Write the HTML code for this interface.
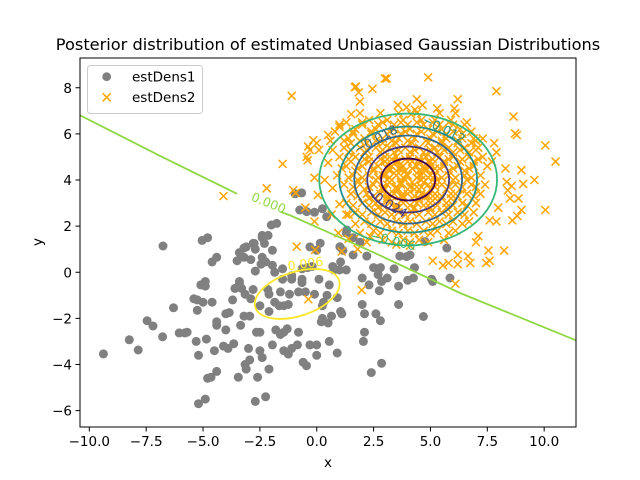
<!DOCTYPE html>
<html><head><meta charset="utf-8"><style>
html,body{margin:0;padding:0;background:#fff}
svg{display:block;font-family:"DejaVu Sans","Liberation Sans",sans-serif}
</style></head><body>
<svg id="chart" width="640" height="480" viewBox="0 0 640 480">
<rect width="640" height="480" fill="#fff"/>
<text x="328" y="50" font-size="16.2" text-anchor="middle" fill="#000">Posterior distribution of estimated Unbiased Gaussian Distributions</text>
<g id="plot"></g>
<rect x="80" y="58" width="496" height="369" fill="none" stroke="#000" stroke-width="1"/>
<g id="xticks"></g>
<g id="yticks"></g>
<text x="328" y="467" font-size="13.5" text-anchor="middle">x</text>
<text x="42" y="242" font-size="13.5" text-anchor="middle" transform="rotate(-90 42 242)">y</text>
<g>
<rect x="87.5" y="65.5" width="115" height="48" rx="3" fill="#fff" fill-opacity="0.8" stroke="#ccc"/>
<circle cx="106.7" cy="76.7" r="4.4" fill="#808080"/>
<text x="132" y="81.5" font-size="13.5">estDens1</text>
<path d="M102.7,93.3L110.7,101.3M102.7,101.3L110.7,93.3" stroke="#ffa500" stroke-width="1.5"/>
<text x="132" y="102" font-size="13.5">estDens2</text>
</g>
</svg>
<script>
const xTicks=[-10,-7.5,-5,-2.5,0,2.5,5,7.5,10];
const xTickLabels=["−10.0","−7.5","−5.0","−2.5","0.0","2.5","5.0","7.5","10.0"];
const yTicks=[-6,-4,-2,0,2,4,6,8];
const yTickLabels=["−6","−4","−2","0","2","4","6","8"];
const dens1X=[-9.38,-8.24,-7.85,-7.46,-7.2,-6.76,-6.78,-6.3,-6.05,-5.8,-5.3,-5.2,-5.04,-5.25,-5.1,-4.9,-4.8,-4.65,-4.6,-5.2,-4.6,-4.4,-4.0,-4.1,-3.9,-3.7,-3.6,-3.5,-3.45,-3.4,-3.4,-3.2,-2.9,-3.15,-3.2,-3.35,-3.0,-3.15,-2.95,-2.75,-2.7,-2.6,-2.7,-2.7,-2.45,-2.4,-2.5,-2.65,-2.95,-2.0,-2.15,-1.85,-1.6,-1.85,-1.45,-1.8,-1.45,-1.45,-1.25,-1.1,-0.95,-0.75,-0.65,-0.5,-0.85,-0.6,-0.45,-0.3,-0.4,0.0,0.0,0.1,0.25,0.25,0.65,0.0,0.55,0.7,1.0,1.15,1.3,-0.1,0.25,-1.76,-2.14,-0.44,-0.66,0.15,0.44,1.02,1.32,1.6,1.9,2.2,2.5,2.8,3.1,3.4,3.65,4.1,4.25,3.6,2.75,2.85,2.3,2.0,2.1,2.6,2.8,3.6,4.69,5.72,5.05,1.1,2.05,2.1,2.85,2.4,0.9,0.55,-0.3,-1.1,-1.95,-2.4,-2.1,-3.1,-4.4,-2.25,-4.9,-3.65,-4.5,-4.85,-4.0,-2.5,-1.6,-0.8,-1.3,0.2,0.5,1.05,0.9,0.45,-0.1,-0.8,-1.2,-1.65,-1.25,-2.1,-2.5,-2.9,-3.3,-3.4,-2.8,-2.1,-1.5,-1.1,-0.65,-0.65,-0.2,-1.5,-1.95,-2.25,-1.95,-2.4,-3.1,-2.8,-2.4,-2.3,-3.2,-4.4,-4.8,-4.9,-5.4,-5.25,-4.4,-3.85,-5.7,-5.0,0.3,0.75,1.3,1.6,1.05,2.0,2.7,5.1,5.86,4.0,4.3,3.95,4.76];
const dens1Y=[-3.54,-2.93,-3.37,-2.1,-2.33,1.14,-2.8,-1.54,-2.63,-2.63,-3.0,-3.6,1.38,-1.2,-0.55,-0.6,-4.6,-4.55,0.45,-5.7,-1.3,-2.3,-1.8,-3.2,-3.3,-1.2,-0.7,0.5,-4.55,-0.5,0.85,1.05,0.55,-0.95,-1.9,-2.3,-3.3,-4.0,-3.8,1.25,1.0,-4.55,-5.6,0.05,0.35,1.6,-3.4,-2.6,-1.9,2.05,-0.75,0.0,-0.85,-1.3,-1.45,-2.5,-2.6,-3.4,-3.55,-0.15,3.4,2.7,-0.3,-0.85,-3.15,-3.9,-4.05,1.1,0.2,0.95,-3.6,-0.3,-1.45,-2.0,-1.9,-3.15,-0.55,0.25,0.1,0.95,1.7,2.6,2.75,2.12,1.6,2.63,3.44,1.26,2.41,1.11,1.83,1.5,1.3,0.7,0.2,0.2,-0.25,0.15,0.7,0.75,-0.25,-0.6,-0.8,-0.4,-0.55,-1.4,-1.8,-1.8,-2.1,-1.4,-1.92,1.05,-0.3,-1.8,-3.0,-2.6,-3.95,-4.35,-3.5,-3.0,-3.15,-3.3,-3.15,-3.7,-4.2,-4.2,-4.3,-5.4,-5.5,-3.1,-3.4,-2.9,-2.5,-2.6,-2.7,-2.6,-2.45,-2.15,-2.2,-1.7,-1.1,-1.0,-0.95,-0.85,-0.95,-1.45,-1.4,-1.7,-1.45,-1.15,-0.7,-0.4,-0.75,-0.95,-0.3,-0.3,-0.45,0.15,0.25,0.15,0.3,0.45,0.95,0.65,1.1,1.25,1.5,1.25,0.65,0.65,1.5,-0.4,-1.15,-1.65,-2.15,-1.75,-2.6,-1.3,-1.3,0.1,0.1,0.75,0.45,-0.25,-0.1,-0.4,-0.25,-0.35,0.2,0.68,1.33];
const dens2X=[-4.1,-1.1,-1.5,-2.2,-0.38,-0.44,-0.15,-0.88,-0.37,-0.07,-1.03,1.98,1.68,3.0,4.9,7.9,10.05,10.5,10.05,9.0,8.8,8.4,8.6,7.45,7.1,6.75,6.2,5.55,6.2,4.32,3.57,1.9,1.0,8.65,8.72,9.57,9.0,9.08,8.57,8.35,8.87,8.5,7.98,8.82,7.9,7.6,8.24,7.55,7.6,7.0,6.65,6.2,5.8,6.1,5.1,6.5,7.3,7.8,7.9,8.3,7.7,6.05,5.3,4.65,4.15,3.08,1.73,1.85,2.45,1.52,1.0,0.5,0.0,-0.3,-0.4,0.1,0.5,-0.1,0.35,0.7,-0.93,0.05,-0.5,-0.1,0.65,0.95,1.4,1.8,1.1,2.35,1.4,1.0,3.5,4.1,3.95,4.4,
2.3,3.1,3.8,4.6,5.2,5.9,1.7,2.6,3.4,4.1,4.9,5.5,6.3,1.4,2.1,2.9,3.6,4.3,5.0,5.7,6.4,6.9,1.2,1.9,2.6,3.2,3.9,4.5,5.2,5.8,6.5,7.1,1.0,1.7,2.3,3.0,3.5,4.1,4.8,5.4,6.0,6.7,7.3,1.3,2.0,2.7,3.3,3.8,4.4,5.0,5.6,6.2,6.9,7.5,0.9,1.6,2.3,2.9,3.5,4.0,4.6,5.2,5.8,6.5,7.2,1.2,1.9,2.5,3.1,3.7,4.3,4.9,5.5,6.1,6.8,7.4,1.5,2.2,2.8,3.4,4.0,4.6,5.2,5.9,6.6,7.2,1.3,2.0,2.6,3.2,3.8,4.4,5.0,5.7,6.4,7.0,1.7,2.4,3.0,3.6,4.2,4.9,5.5,6.2,6.9,2.1,2.8,3.5,4.1,4.8,5.4,6.0,6.7,2.5,3.3,4.0,4.7,5.3,6.1,2.9,3.8,4.5,5.6,
2.0,2.7,3.4,4.0,4.7,5.4,6.0,1.6,2.4,3.1,3.7,4.4,5.1,5.7,6.4,1.5,2.2,2.9,3.5,4.2,4.9,5.5,6.2,6.8,1.4,2.1,2.8,3.4,4.1,4.7,5.3,6.0,6.7,1.5,2.3,3.0,3.6,4.2,4.9,5.6,6.3,6.9,1.7,2.5,3.2,3.9,4.5,5.1,5.8,6.5,1.8,2.6,3.3,3.9,4.6,5.3,6.0,6.6,2.1,2.9,3.6,4.3,5.0,5.7,6.3,2.3,3.1,3.8,4.5,5.2,5.9,2.7,3.5,4.3,5.0,5.7,
3.0,3.5,4.0,4.5,5.0,3.2,3.7,4.2,4.7,5.2,3.0,3.5,4.0,4.5,5.0,3.2,3.7,4.2,4.7,5.2,3.0,3.5,4.0,4.5,5.0,3.3,3.8,4.3,4.8,
1.9,2.8,3.6,4.4,5.4,6.1,1.3,2.0,2.9,3.7,4.4,5.1,5.8,6.6,0.8,1.6,2.4,3.2,3.9,4.6,5.3,6.0,6.8,0.6,1.2,1.9,2.6,3.3,4.0,4.8,5.5,6.2,7.0,0.7,1.5,2.2,2.9,3.6,4.3,5.0,5.6,6.3,7.0,1.4,2.1,2.8,3.3,3.9,4.5,5.1,5.8,6.4,7.1,1.1,1.8,2.5,3.1,3.6,4.2,4.8,5.4,6.0,6.7,1.4,2.0,2.7,3.2,3.8,4.4,4.9,5.5,6.1,6.8,1.6,2.3,2.9,3.5,4.1,4.6,5.2,5.8,6.4,7.0,1.8,2.5,3.1,3.7,4.3,4.9,5.5,6.2,6.9,1.6,2.3,2.9,3.5,4.1,4.7,5.3,6.0,6.6,1.3,2.0,2.7,3.3,3.9,4.5,5.2,5.8,6.5,1.7,2.4,3.1,3.8,4.4,5.1,5.7,6.4,1.9,2.8,3.6,4.3,5.0,5.8,2.2,3.3,4.1,4.9];
const dens2Y=[3.3,7.65,4.7,3.64,5.45,5.0,5.73,1.11,-1.17,0.97,3.56,-0.77,8.03,8.4,8.45,7.85,5.5,4.8,2.7,2.7,5.95,3.55,2.25,0.4,1.57,0.4,0.75,0.3,7.5,7.05,7.25,7.4,6.4,6.75,6.02,4.0,4.43,3.83,3.74,3.92,3.2,3.2,2.8,2.44,2.2,2.25,0.94,0.94,0.5,1.3,0.7,0.35,0.4,-0.5,0.5,6.4,5.8,5.6,5.2,4.5,4.8,7.1,7.1,7.25,6.85,8.4,8.05,7.8,7.95,6.85,6.3,5.95,5.6,5.3,4.85,5.3,4.75,4.1,4.0,3.65,3.44,3.35,2.8,2.2,2.5,1.7,1.45,1.0,0.9,1.55,2.5,2.95,1.2,1.15,7.15,7.5,
6.6,6.6,6.6,6.6,6.6,6.6,6.2,6.2,6.2,6.2,6.2,6.2,6.2,5.8,5.8,5.8,5.8,5.8,5.8,5.8,5.8,5.8,5.4,5.4,5.4,5.4,5.4,5.4,5.4,5.4,5.4,5.4,5.0,5.0,5.0,5.0,5.0,5.0,5.0,5.0,5.0,5.0,5.0,4.6,4.6,4.6,4.6,4.6,4.6,4.6,4.6,4.6,4.6,4.6,4.2,4.2,4.2,4.2,4.2,4.2,4.2,4.2,4.2,4.2,4.2,3.8,3.8,3.8,3.8,3.8,3.8,3.8,3.8,3.8,3.8,3.8,3.4,3.4,3.4,3.4,3.4,3.4,3.4,3.4,3.4,3.4,3.0,3.0,3.0,3.0,3.0,3.0,3.0,3.0,3.0,3.0,2.6,2.6,2.6,2.6,2.6,2.6,2.6,2.6,2.6,2.2,2.2,2.2,2.2,2.2,2.2,2.2,2.2,1.8,1.8,1.8,1.8,1.8,1.8,1.4,1.4,1.4,1.4,
6.4,6.4,6.4,6.4,6.4,6.4,6.4,6.0,6.0,6.0,6.0,6.0,6.0,6.0,6.0,5.6,5.6,5.6,5.6,5.6,5.6,5.6,5.6,5.6,5.2,5.2,5.2,5.2,5.2,5.2,5.2,5.2,5.2,4.8,4.8,4.8,4.8,4.8,4.8,4.8,4.8,4.8,4.4,4.4,4.4,4.4,4.4,4.4,4.4,4.4,4.0,4.0,4.0,4.0,4.0,4.0,4.0,4.0,3.6,3.6,3.6,3.6,3.6,3.6,3.6,3.2,3.2,3.2,3.2,3.2,3.2,2.8,2.8,2.8,2.8,2.8,
4.8,4.8,4.8,4.8,4.8,4.5,4.5,4.5,4.5,4.5,4.2,4.2,4.2,4.2,4.2,3.9,3.9,3.9,3.9,3.9,3.6,3.6,3.6,3.6,3.6,3.3,3.3,3.3,3.3,
6.9,6.9,6.9,6.9,6.9,6.9,6.5,6.5,6.5,6.5,6.5,6.5,6.5,6.5,6.1,6.1,6.1,6.1,6.1,6.1,6.1,6.1,6.1,5.7,5.7,5.7,5.7,5.7,5.7,5.7,5.7,5.7,5.7,5.3,5.3,5.3,5.3,5.3,5.3,5.3,5.3,5.3,5.3,4.9,4.9,4.9,4.9,4.9,4.9,4.9,4.9,4.9,4.9,4.5,4.5,4.5,4.5,4.5,4.5,4.5,4.5,4.5,4.5,4.1,4.1,4.1,4.1,4.1,4.1,4.1,4.1,4.1,4.1,3.7,3.7,3.7,3.7,3.7,3.7,3.7,3.7,3.7,3.7,3.3,3.3,3.3,3.3,3.3,3.3,3.3,3.3,3.3,2.9,2.9,2.9,2.9,2.9,2.9,2.9,2.9,2.9,2.5,2.5,2.5,2.5,2.5,2.5,2.5,2.5,2.5,2.1,2.1,2.1,2.1,2.1,2.1,2.1,2.1,1.7,1.7,1.7,1.7,1.7,1.7,1.3,1.3,1.3,1.3];
const contourLevels=["−0.030","−0.024","−0.018","−0.012","−0.006"];
const contourRx=[1.19,1.8,2.37,3.03,3.91];
const contourRy=[0.91,1.43,1.91,2.3,2.86];
const zeroLineX=[-10.4,-6.8,-3.5,-1.6,-1.2,2.5,6.3,11.4];
const zeroLineY=[6.8,5.0,3.4,2.62,2.48,0.86,-0.9,-2.95];

const XMIN=-10.41,XMAX=11.4,YMIN=-6.71,YMAX=9.29;
const L=80,R=576,T=58,B=427;
const sx=v=>L+(v-XMIN)/(XMAX-XMIN)*(R-L);
const sy=v=>B-(v-YMIN)/(YMAX-YMIN)*(B-T);
const NS='http://www.w3.org/2000/svg';
function mk(tag,attrs,parent){const e=document.createElementNS(NS,tag);for(const k in attrs)e.setAttribute(k,attrs[k]);parent.appendChild(e);return e;}
const plot=document.getElementById('plot');
const clip=mk('clipPath',{id:'clipA'},plot);mk('rect',{x:L,y:T,width:R-L,height:B-T},clip);
const g=mk('g',{'clip-path':'url(#clipA)'},plot);


const gs1=mk('g',{},g);


for(let i=0;i<dens1X.length;i++){
 const c=mk('circle',{cx:sx(dens1X[i]).toFixed(1),cy:sy(dens1Y[i]).toFixed(1),r:4.5,fill:'#808080'},gs1);
 
 
}
const gs2=mk('g',{},g);


for(let i=0;i<dens2X.length;i++){
 const x=sx(dens2X[i]),y=sy(dens2Y[i]);
 const p=mk('path',{d:`M${x-4},${y-4}L${x+4},${y+4}M${x-4},${y+4}L${x+4},${y-4}`,stroke:'#ffa500','stroke-width':1.5,fill:'none'},gs2);
 
 
}
const cols=['#440154','#443983','#31688e','#21918c','#35b779'];
const cx=sx(4.02),cy=sy(4.02);
for(let i=0;i<contourLevels.length;i++){
 const e=mk('ellipse',{cx:cx,cy:cy,rx:contourRx[i]*(R-L)/(XMAX-XMIN),ry:contourRy[i]*(B-T)/(YMAX-YMIN),fill:'none',stroke:cols[i],'stroke-width':1.8},g);
 
 
}
let d1='',d2='';
for(let i=0;i<zeroLineX.length;i++){
 const pt=sx(zeroLineX[i]).toFixed(1)+','+sy(zeroLineY[i]).toFixed(1);
 if(zeroLineX[i]<=-3.5) d1+=(d1?'L':'M')+pt;
 if(zeroLineX[i]>=-1.6) d2+=(d2?'L':'M')+pt;
}
const zl1=mk('path',{d:d1,stroke:'#90d743','stroke-width':1.8,fill:'none'},g);


const zl2=mk('path',{d:d2,stroke:'#90d743','stroke-width':1.8,fill:'none'},g);


const ye=mk('ellipse',{cx:sx(-0.86),cy:sy(-0.94),rx:44,ry:22,fill:'none',stroke:'#fde725','stroke-width':1.8,transform:`rotate(-18 ${sx(-0.86)} ${sy(-0.94)})`},g);


const labs=[["0.000",267,207,22,'#90d743'],["0.006",306,268,-8,'#fde725'],["−0.024",384,206,32,'#443983'],["−0.018",378,143,-28,'#31688e'],["−0.012",442,133,27,'#21918c'],["−0.006",392,245,14,'#35b779']];
labs.forEach(a=>{
 const t=mk('text',{x:a[1],y:a[2],'font-size':12.5,fill:a[4],'text-anchor':'middle',transform:`rotate(${a[3]} ${a[1]} ${a[2]})`},g);
 t.textContent=a[0];
 
 
});
const gx=document.getElementById('xticks');
xTicks.forEach((v,i)=>{
 const x=sx(v);
 const l=mk('line',{x1:x,x2:x,y1:B,y2:B+4.5,stroke:'#000'},gx);
 
 
 const t=mk('text',{x:x,y:B+19,'font-size':13.5,'text-anchor':'middle'},gx);
 t.textContent=xTickLabels[i];
 
 
});
const gy=document.getElementById('yticks');
yTicks.forEach((v,i)=>{
 const y=sy(v);
 const l=mk('line',{x1:L-4.5,x2:L,y1:y,y2:y,stroke:'#000'},gy);
 
 
 const t=mk('text',{x:L-8,y:y+5,'font-size':13.5,'text-anchor':'end'},gy);
 t.textContent=yTickLabels[i];
 
 
});
</script>
</body></html>
